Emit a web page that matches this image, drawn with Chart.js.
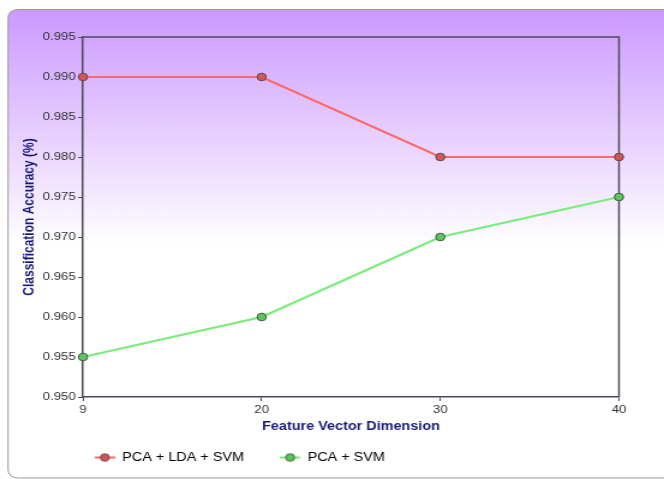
<!DOCTYPE html>
<html>
<head>
<meta charset="utf-8">
<script src="https://cdn.jsdelivr.net/npm/chart.js@4/dist/chart.umd.min.js"></script>
<style>
  html, body { margin: 0; padding: 0; background: #ffffff; overflow: hidden; }
  #c { display: block; width: 664px !important; height: 479px !important; }
</style>
</head>
<body>
<canvas id="c" width="553" height="479"></canvas>
<script>
// ---- data ----
const categories = ['9', '20', '30', '40'];
const pcaLdaSvm = [0.990, 0.990, 0.980, 0.980];
const pcaSvm = [0.955, 0.960, 0.970, 0.975];
const seriesNames = ['PCA + LDA + SVM', 'PCA + SVM'];
const yMin = 0.950, yMax = 0.995, yStep = 0.005;
const xTitle = 'Feature Vector Dimension';
const yTitle = 'Classification Accuracy (%)';

const FONT = "'Liberation Sans', Arial, sans-serif";
const W = 553; // internal canvas width (displayed stretched to 664px)

function legendMarker(lineColor, fill, border) {
  const c = document.createElement('canvas');
  c.width = 17; c.height = 10;
  const g = c.getContext('2d');
  g.strokeStyle = lineColor; g.lineWidth = 2;
  g.beginPath(); g.moveTo(0, 5); g.lineTo(17, 5); g.stroke();
  g.beginPath(); g.arc(8.5, 5, 3.7, 0, Math.PI * 2);
  g.fillStyle = fill; g.fill();
  g.strokeStyle = border; g.lineWidth = 1; g.stroke();
  return c;
}

const bgPlugin = {
  id: 'bg',
  beforeDraw(chart) {
    const ctx = chart.ctx;
    ctx.save();
    ctx.fillStyle = '#ffffff';
    ctx.fillRect(0, 0, chart.width, chart.height);
    const x0 = 6.7, y0 = 9.5, x1 = chart.width + 20, y1 = 478, r = 9;
    ctx.beginPath();
    ctx.moveTo(x0 + r, y0);
    ctx.lineTo(x1, y0);
    ctx.lineTo(x1, y1);
    ctx.lineTo(x0 + r, y1);
    ctx.quadraticCurveTo(x0, y1, x0, y1 - r);
    ctx.lineTo(x0, y0 + r);
    ctx.quadraticCurveTo(x0, y0, x0 + r, y0);
    ctx.closePath();
    const grad = ctx.createLinearGradient(0, 9, 0, 245);
    grad.addColorStop(0, '#cc99ff');
    grad.addColorStop(1, '#ffffff');
    ctx.fillStyle = grad;
    ctx.fill();
    ctx.strokeStyle = '#9a9a9a';
    ctx.lineWidth = 1;
    ctx.stroke();
    ctx.restore();
  },
  beforeDatasetsDraw(chart) {
    const a = chart.chartArea, ctx = chart.ctx;
    ctx.save();
    ctx.strokeStyle = '#4d4a55';
    ctx.lineWidth = 1.5;
    ctx.beginPath();
    ctx.moveTo(a.left, a.top);
    ctx.lineTo(a.right, a.top);
    ctx.lineTo(a.right, a.bottom);
    ctx.stroke();
    ctx.restore();
  },
  afterLayout(chart) {
    const lg = chart.legend;
    if (!lg) return;
    const p = 30;
    lg.left = 78.8 - p;
    lg.right = W;
    lg.top = 457.5 - p - 6;
  }
};

new Chart(document.getElementById('c'), {
  type: 'line',
  data: {
    labels: categories,
    datasets: [
      {
        label: seriesNames[0],
        data: pcaLdaSvm,
        borderColor: '#ff6868',
        borderWidth: 2,
        pointRadius: 3.8,
        pointBackgroundColor: '#d95454',
        pointBorderColor: '#5a4a4a',
        pointBorderWidth: 1,
        tension: 0,
        clip: false,
        _marker: ['#ff6868', '#d95454', '#5a4a4a']
      },
      {
        label: seriesNames[1],
        data: pcaSvm,
        borderColor: '#77ee77',
        borderWidth: 2,
        pointRadius: 3.8,
        pointBackgroundColor: '#5cc85c',
        pointBorderColor: '#3f5a3f',
        pointBorderWidth: 1,
        tension: 0,
        clip: false,
        _marker: ['#77ee77', '#5cc85c', '#3f5a3f']
      }
    ]
  },
  options: {
    responsive: false,
    devicePixelRatio: 1,
    animation: false,
    layout: { padding: { left: 13, top: 37, right: 37.5, bottom: 5 } },
    plugins: {
      title: { display: false },
      tooltip: { enabled: false },
      legend: {
        display: true,
        position: 'bottom',
        align: 'start',
        maxHeight: 40,
        labels: {
          usePointStyle: true,
          pointStyleWidth: 17,
          padding: 30,
          color: '#333333',
          font: { family: FONT, size: 12 },
          generateLabels(chart) {
            return chart.data.datasets.map((ds, i) => ({
              text: ds.label,
              pointStyle: legendMarker(ds._marker[0], ds._marker[1], ds._marker[2]),
              fillStyle: ds._marker[1],
              strokeStyle: ds._marker[0],
              lineWidth: 0,
              hidden: false,
              datasetIndex: i
            }));
          }
        }
      }
    },
    scales: {
      x: {
        type: 'category',
        offset: false,
        grid: { display: true, drawOnChartArea: false, drawTicks: true, tickLength: 4, tickColor: '#4d4a55' },
        border: { display: true, color: '#4d4a55', width: 1.5 },
        ticks: { color: '#333333', font: { family: FONT, size: 11 }, padding: 2, maxRotation: 0, autoSkip: false },
        title: { display: true, text: xTitle, color: '#1a1a7a', font: { family: FONT, size: 12, weight: 'bold' }, padding: { top: 0, bottom: 0 } },
        afterFit(scale) { scale.height = 37; }
      },
      y: {
        min: yMin,
        max: yMax,
        grid: { display: true, drawOnChartArea: false, drawTicks: true, tickLength: 4, tickColor: '#4d4a55' },
        border: { display: true, color: '#4d4a55', width: 1.5 },
        ticks: {
          stepSize: yStep,
          color: '#333333',
          font: { family: FONT, size: 11 },
          padding: 2,
          callback: (v) => Number(v).toFixed(3)
        },
        title: { display: true, text: yTitle, color: '#1a1a7a', font: { family: FONT, size: 12, weight: 'bold' }, padding: { top: 4, bottom: 4 } },
        afterFit(scale) { scale.width = 56.1; }
      }
    }
  },
  plugins: [bgPlugin]
});
</script>
</body>
</html>
